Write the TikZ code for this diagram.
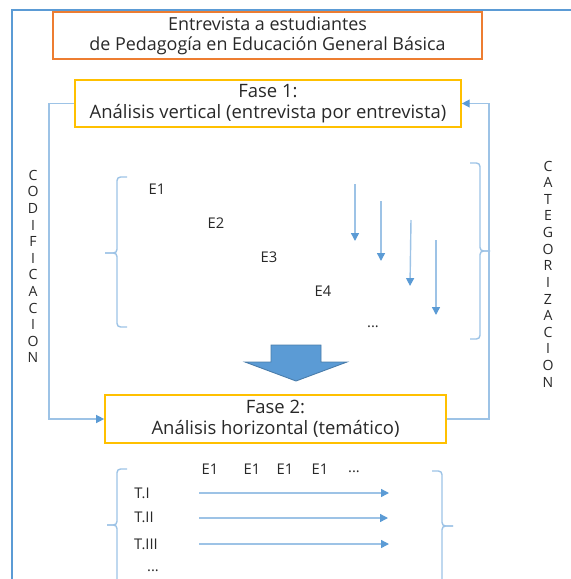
\documentclass[tikz,border=0pt]{standalone}
\usepackage{fontspec}
\setmainfont{Open Sans}
\usetikzlibrary{arrows.meta}
\definecolor{frameblue}{RGB}{91,155,213}
\definecolor{lineblue}{RGB}{157,195,230}
\definecolor{tipblue}{RGB}{91,155,213}
\definecolor{titleorange}{RGB}{237,125,49}
\definecolor{phasegold}{RGB}{255,192,0}
\definecolor{textgray}{RGB}{40,40,40}

\begin{document}
\begin{tikzpicture}[x=0.02cm, y=-0.02cm,
    every node/.style={text=textgray},
    titlebox/.style={draw=titleorange, line width=1pt, align=center, inner sep=0pt,
        minimum width=8.58cm, minimum height=0.94cm, font=\fontsize{10.2}{11.5}\selectfont},
    phasebox/.style={draw=phasegold, line width=1pt, align=center, inner sep=0pt,
        minimum height=0.95cm, font=\fontsize{10.5}{12.2}\selectfont},
    loopline/.style={draw=lineblue, line width=0.8pt},
    bracket/.style={draw=lineblue, line width=0.8pt, rounded corners=2pt},
    flow/.style={draw=lineblue, line width=0.8pt, -{Triangle[length=4.5pt,width=4.5pt,color=tipblue]}},
    letters/.style={align=center, inner sep=0pt, font=\fontsize{8}{9.45}\selectfont},
    small/.style={inner sep=0pt, font=\fontsize{8.4}{10}\selectfont}]
    \useasboundingbox (0,0) rectangle (571,579);
    \clip (0,0) rectangle (571,579);

    % Frame
    \draw[frameblue, line width=1.2pt] (12,600) -- (12,10) -- (600,10);

    % Boxes
    \node[titlebox] (title) at (267.5,35.5) {Entrevista a estudiantes\\de Pedagogía en Educación General Básica};
    \node[phasebox, minimum width=7.72cm] (fase1) at (268,103.5) {Fase 1:\\Análisis vertical (entrevista por entrevista)};
    \node[phasebox, minimum width=6.82cm] (fase2) at (275.5,419) {Fase 2:\\Análisis horizontal (temático)};

    % Loop lines
    \coordinate (lcorner) at (49,419);
    \coordinate (rcorner) at (489,103.5);
    \draw[loopline, -{Triangle[length=4.5pt,width=4.5pt,color=tipblue]}] (fase1.west) -| (lcorner) -- (fase2.west);
    \draw[loopline, -{Triangle[length=4.5pt,width=4.5pt,color=tipblue]}] (fase2.east) -| (rcorner) -- (fase1.east);

    % Side texts
    \node[letters] (codif) at (33,266.5) {C\\O\\D\\I\\F\\I\\C\\A\\C\\I\\O\\N};
    \node[letters] (categ) at (548,274) {C\\A\\T\\E\\G\\O\\R\\I\\Z\\A\\C\\I\\O\\N};

    % Upper brackets
    \draw[bracket] (127,177) -- (117,177) -- (117,253) -- (105,253);
    \draw[bracket] (105,253) -- (117,253) -- (117,327) -- (127,327);
    \draw[bracket] (470,163) -- (480,163) -- (480,251) -- (490,251);
    \draw[bracket] (490,251) -- (480,251) -- (480,339) -- (470,339);

    % Interviews
    \node[small] (e1) at (157,189) {E1};
    \node[small] (e2) at (216,223) {E2};
    \node[small] (e3) at (269,257) {E3};
    \node[small] (e4) at (323,291) {E4};
    \node[small] (edots) at (373,327) {...};

    % Vertical arrows
    \coordinate (va1) at (355,184);  \coordinate (vb1) at (355,241);
    \coordinate (va2) at (381,201);  \coordinate (vb2) at (381,261);
    \coordinate (va3) at (411,220);  \coordinate (vb3) at (410,286);
    \coordinate (va4) at (436,240);  \coordinate (vb4) at (436,315);
    \draw[flow] (va1) -- (vb1);
    \draw[flow] (va2) -- (vb2);
    \draw[flow] (va3) -- (vb3);
    \draw[flow] (va4) -- (vb4);

    % Block arrow
    \draw[fill=frameblue, draw=frameblue!80!black, line width=0.5pt, line join=miter]
        (271,345) -- (321,345) -- (321,362) -- (347,362) -- (296,381) -- (245,362) -- (271,362) -- cycle;

    % Lower brackets
    \draw[bracket] (127,469) -- (117,469) -- (117,525) -- (107,525);
    \draw[bracket] (107,525) -- (117,525) -- (117,590);
    \draw[bracket] (432,471) -- (442,471) -- (442,526) -- (453,526);
    \draw[bracket] (453,526) -- (442,526) -- (442,590);

    % Theme table
    \node[small] (h1) at (210,469) {E1};
    \node[small] (h2) at (252,469) {E1};
    \node[small] (h3) at (285,469) {E1};
    \node[small] (h4) at (320,469) {E1};
    \node[small] (hdots) at (354,472) {...};
    \node[small] (t1) at (142,493) {T.I};
    \node[small] (t2) at (144,517) {T.II};
    \node[small] (t3) at (146,544) {T.III};
    \node[small] (tdots) at (153,571) {...};
    \coordinate (ha1) at (199,493);  \coordinate (hb1) at (389,493);
    \coordinate (ha2) at (199,518);  \coordinate (hb2) at (388,518);
    \coordinate (ha3) at (199,544);  \coordinate (hb3) at (389,544);
    \draw[flow] (ha1) -- (hb1);
    \draw[flow] (ha2) -- (hb2);
    \draw[flow] (ha3) -- (hb3);
\end{tikzpicture}
\end{document}
